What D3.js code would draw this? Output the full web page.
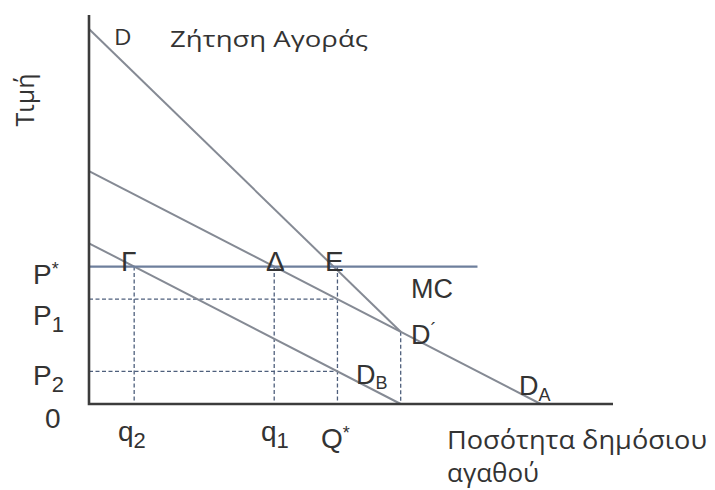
<!DOCTYPE html>
<html>
<head>
<meta charset="utf-8">
<script src="https://cdn.jsdelivr.net/npm/d3@7"></script>
<style>
  html, body { margin: 0; padding: 0; background: #fff; }
  svg { display: block; }
</style>
</head>
<body>
<svg id="chart" width="715" height="490"></svg>
<script>
// Quantity and price levels of the public-good diagram (abstract units)
const axisMax = { q: 116, p: 167 };
const demandA = [[0, 100], [100, 0]];           // D_A
const demandB = [[0, 69], [69, 0]];             // D_B
const demandMarket = [[0, 161], [69, 31]];      // D (vertical sum, joins D_A at D')
const mcLevel = 59;                              // P*
const mcRange = [0, 86];
const priceLevels = { P1: 45, P2: 14 };
const quantities = { q2: 10, q1: 41, Qstar: 55, Dprime: 69 };

const svg = d3.select("#chart");
const x = d3.scaleLinear().domain([0, axisMax.q]).range([89, 613]);
const y = d3.scaleLinear().domain([0, axisMax.p]).range([404, 15]);
const line = d3.line().x(d => x(d[0])).y(d => y(d[1]));

const sansA = "'Liberation Sans', Arial, sans-serif";
const sansO = "'Open Sans', 'Noto Sans', sans-serif";
const lineCol = "#858a94";
const dashCol = "#4e5f7c";
const ink = "#333";

// dashed guide lines
const dash = "4,2.5";
function guide(pts) {
  svg.append("path").attr("d", line(pts)).attr("fill", "none")
    .attr("stroke", dashCol).attr("stroke-width", 1.3).attr("stroke-dasharray", dash);
}
guide([[0, priceLevels.P1], [quantities.Qstar, priceLevels.P1]]);
guide([[0, priceLevels.P2], [quantities.Qstar, priceLevels.P2]]);
guide([[quantities.q2, mcLevel], [quantities.q2, 0]]);
guide([[quantities.q1, mcLevel], [quantities.q1, 0]]);
guide([[quantities.Qstar, mcLevel], [quantities.Qstar, 0]]);
guide([[quantities.Dprime, demandMarket[1][1]], [quantities.Dprime, 0]]);

// demand curves
[demandA, demandB, demandMarket].forEach(d => {
  svg.append("path").attr("d", line(d)).attr("fill", "none")
    .attr("stroke", lineCol).attr("stroke-width", 2);
});

// marginal cost
svg.append("path").attr("d", line([[mcRange[0], mcLevel], [mcRange[1], mcLevel]]))
  .attr("fill", "none").attr("stroke", "#6e7f9c").attr("stroke-width", 2.2);

// axes
svg.append("path").attr("d", line([[0, axisMax.p], [0, 0], [axisMax.q, 0]]))
  .attr("fill", "none").attr("stroke", "#3c3c3c").attr("stroke-width", 2.6);

// text helpers
function txt(str, px, py, size, font) {
  return svg.append("text").attr("x", px).attr("y", py)
    .attr("font-family", font || sansA).attr("font-size", size)
    .attr("fill", ink).text(str);
}
function sub(main, s, px, py, size, subSize, dy) {
  const t = svg.append("text").attr("x", px).attr("y", py)
    .attr("font-family", sansA).attr("font-size", size).attr("fill", ink);
  t.append("tspan").text(main);
  t.append("tspan").attr("font-size", subSize).attr("dy", dy).text(s);
  return t;
}
function sup(main, s, px, py, size, supSize, dy) {
  const t = svg.append("text").attr("x", px).attr("y", py)
    .attr("font-family", sansA).attr("font-size", size).attr("fill", ink);
  t.append("tspan").text(main);
  t.append("tspan").attr("font-size", supSize).attr("dy", dy).text(s);
  return t;
}

// title and axis titles
svg.append("text").attr("transform", "translate(114,45) scale(1.15,1)")
  .attr("font-family", sansO).attr("font-size", 21).attr("fill", ink).text("D");
txt("Ζήτηση Αγοράς", 170, 47, 22, sansO)
  .attr("textLength", 198).attr("lengthAdjust", "spacingAndGlyphs");
svg.append("text").attr("transform", "translate(34,100) rotate(-90)")
  .attr("font-family", sansO).attr("font-size", 25).attr("fill", ink)
  .attr("text-anchor", "middle").text("Τιμή");
txt("Ποσότητα δημόσιου", 447, 449, 25, sansO)
  .attr("textLength", 260).attr("lengthAdjust", "spacingAndGlyphs");
txt("αγαθού", 447, 482, 25, sansO)
  .attr("textLength", 92).attr("lengthAdjust", "spacingAndGlyphs");

// price labels
sup("P", "*", 33, 284, 28, 18, -9);
sub("P", "1", 33, 325, 28, 22, 7);
sub("P", "2", 33, 385, 28, 22, 7);
txt("0", 45, 428, 28);

// quantity labels
sub("q", "2", 118, 441, 28, 22, 7);
sub("q", "1", 261, 441, 28, 22, 7);
sup("Q", "*", 321, 448, 28, 18, -9);

// point labels
txt("Γ", 121, 271, 28);
txt("Δ", 266, 271, 28);
txt("E", 325, 271, 28);
txt("MC", 411, 298, 27);
sup("D", "´", 411, 344, 27, 18, -8);
sub("D", "B", 356, 384, 27, 18, 5);
sub("D", "A", 519, 395, 27, 18, 6);
</script>
</body>
</html>
